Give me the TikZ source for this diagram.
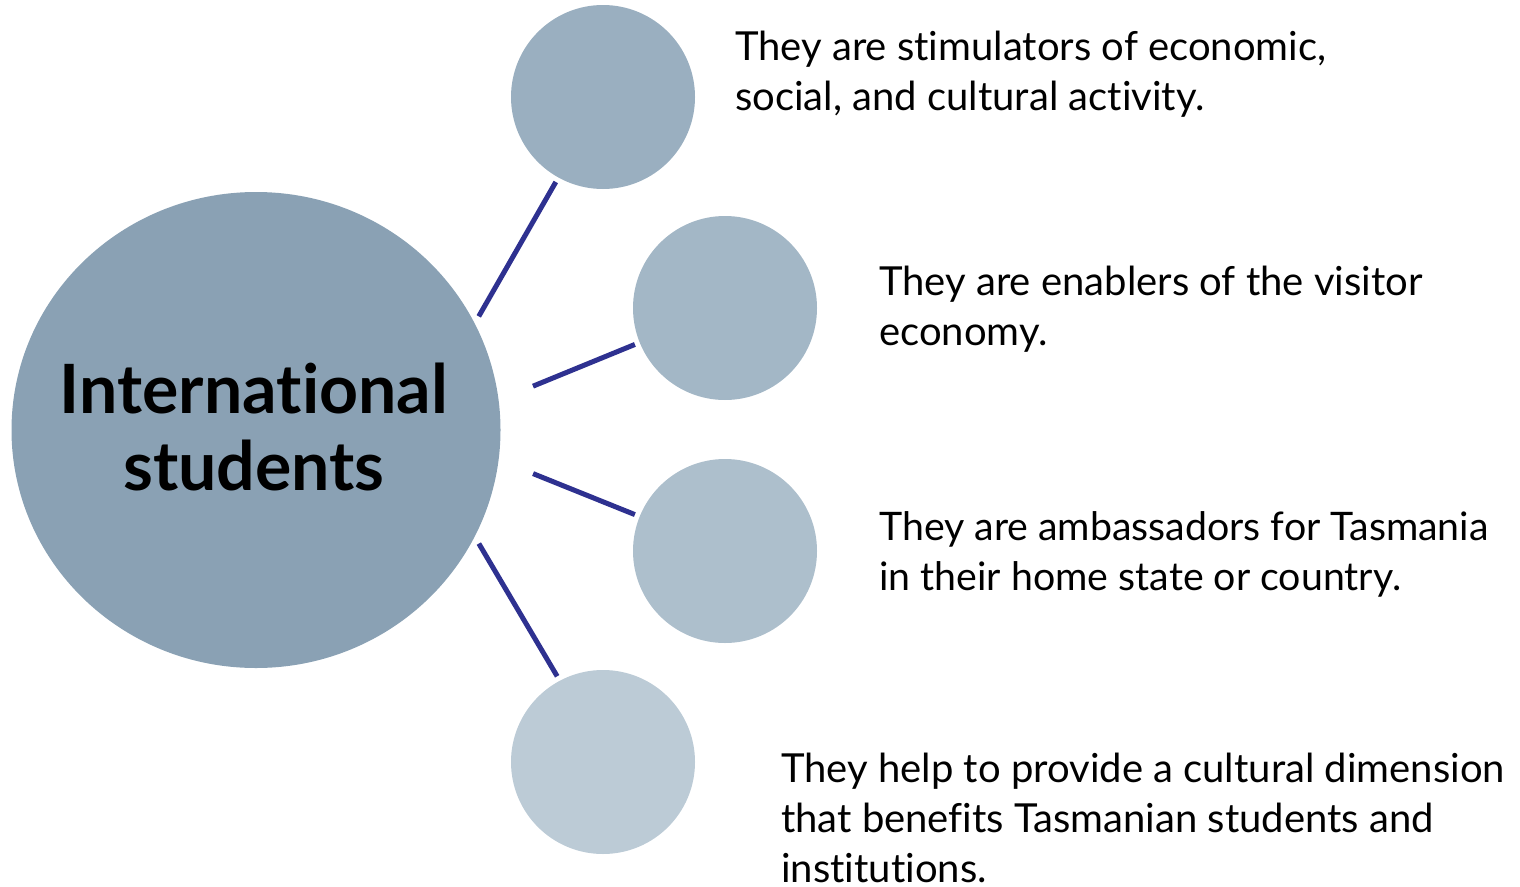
\documentclass[tikz,border=0pt]{standalone}
\usepackage{fontspec}
\setmainfont{Lato}[Ligatures=NoCommon]
\usetikzlibrary{shapes.geometric}
\definecolor{bigc}{HTML}{8AA1B4}
\definecolor{cA}{HTML}{9AAFC0}
\definecolor{cB}{HTML}{A3B7C6}
\definecolor{cC}{HTML}{ADBFCC}
\definecolor{cD}{HTML}{BCCBD6}
\definecolor{navy}{HTML}{2E3190}
\tikzset{
  bubble/.style={circle, minimum size=184pt, inner sep=0pt, draw=none},
  conn/.style={draw=navy, line width=5pt},
  desc/.style={anchor=base west, align=left, inner sep=0pt, font=\fontsize{40}{50}\selectfont}
}
\begin{document}
\begin{tikzpicture}[x=1pt,y=-1pt]
\useasboundingbox (0,0) rectangle (1520,886);
\node[ellipse, fill=bigc, minimum width=489pt, minimum height=476pt, inner sep=0pt] (big) at (256,430) {};
\node[anchor=base, align=center, inner sep=0pt, font=\fontsize{68}{77}\selectfont\bfseries] (bigtext) at (254,490) {International\\students};
\node[bubble, fill=cA] (c1) at (603,97) {};
\node[bubble, fill=cB] (c2) at (725,308) {};
\node[bubble, fill=cC] (c3) at (725,551) {};
\node[bubble, fill=cD] (c4) at (603,762) {};
\draw[conn, shorten <=8pt, shorten >=5pt] (big.26) -- (c1.241.7);
\draw[conn, shorten <=37pt, shorten >=5pt] (big.7) -- (c2.202);
\draw[conn, shorten <=37pt, shorten >=5pt] (big.-7) -- (c3.158);
\draw[conn, shorten <=8pt, shorten >=5pt] (big.-26) -- (c4.118.3);
\node[desc] (t1) at (735,110) {They are stimulators of economic,\\social, and cultural activity.};
\node[desc] (t2) at (879,345) {They are enablers of the visitor\\economy.};
\node[desc, font=\fontsize{39.3}{50}\selectfont] (t3) at (879,590) {They are ambassadors for Tasmania\\in their home state or country.};
\node[desc] (t4) at (781,882) {They help to provide a cultural dimension\\that benefits Tasmanian students and\\institutions.};
\end{tikzpicture}
\end{document}
